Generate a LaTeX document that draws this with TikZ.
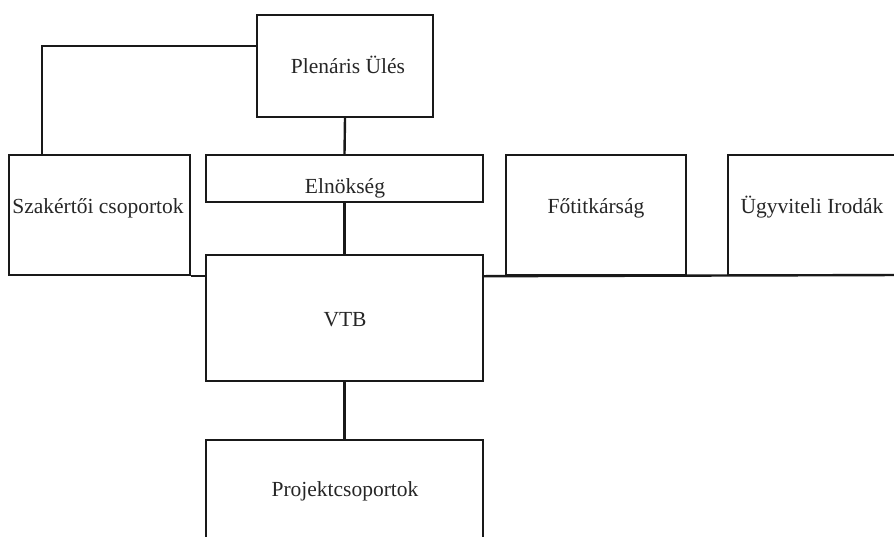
\documentclass[tikz,border=0pt]{standalone}
\usepackage{fontspec}
\setmainfont{Liberation Serif}
\newfontfamily\tnrfont{Liberation Serif}
\begin{document}
\begin{tikzpicture}[x=1pt,y=-1pt,
  box/.style={draw=black!90,line width=2.4pt,rectangle,inner sep=0pt},
  lbl/.style={inner sep=0pt,anchor=base,font=\tnrfont\fontsize{21.5}{25}\selectfont,text=black!85},
  conn/.style={draw=black!90,line width=2.4pt}]
\useasboundingbox (0,0) rectangle (894,536);
\begin{scope}
\clip (0,0) rectangle (894,536);
% boxes (corners given in pixel coordinates)
\node[box,minimum width=176pt,minimum height=102pt] (plen) at (345,66) {};
\node[box,minimum width=181pt,minimum height=120pt] (szak) at (99.5,215) {};
\node[box,minimum width=277pt,minimum height=47pt] (elnok) at (344.5,178.5) {};
\node[box,minimum width=180pt,minimum height=120pt] (fotit) at (596,215) {};
\node[box,minimum width=180pt,minimum height=120pt] (ugyv) at (818,215) {};
\node[box,minimum width=277pt,minimum height=126pt] (vtb) at (344.5,318) {};
\node[box,minimum width=277pt,minimum height=110pt] (proj) at (344.5,495) {};
% connectors
\coordinate (pl) at (plen.west |- 0,46);
\draw[conn] (pl) -| (szak.north -| 42,0);
\draw[conn] (plen.south) -- (elnok.north);
\draw[conn] (elnok.south) -- (vtb.north);
\draw[conn] (vtb.south) -- (proj.north);
\draw[conn] (szak.south east) -- (vtb.west |- szak.south east);
\coordinate (rend) at (900,275);
\draw[conn] (vtb.east |- fotit.south west) -- (rend);
\end{scope}
% labels
\node[lbl] (tplen) at (348,73) {Plenáris Ülés};
\node[lbl] (tszak) at (98,213) {Szakértői csoportok};
\node[lbl] (telnok) at (345,193) {Elnökség};
\node[lbl] (tfotit) at (596,213) {Főtitkárság};
\node[lbl] (tugyv) at (812,213) {Ügyviteli Irodák};
\node[lbl] (tvtb) at (345,326) {VTB};
\node[lbl] (tproj) at (345,496) {Projektcsoportok};
\end{tikzpicture}
\end{document}
